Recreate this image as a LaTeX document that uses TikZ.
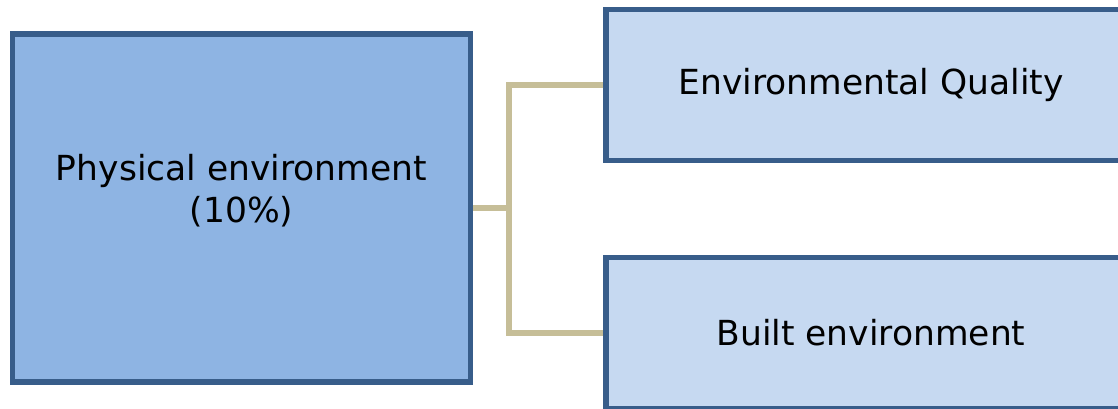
\documentclass[tikz,border=0pt]{standalone}
\usepackage{fontspec}
\setmainfont{DejaVu Sans}
\usetikzlibrary{positioning}
\definecolor{physcolor}{RGB}{142,180,227}
\definecolor{subcolor}{RGB}{198,217,241}
\definecolor{edgecolor}{RGB}{56,93,138}
\definecolor{linkcolor}{RGB}{198,190,152}

\begin{document}
\begin{tikzpicture}[
    x=1pt, y=-1pt,
    box/.style={draw=edgecolor, line width=5.5pt, fill=#1, inner sep=0pt, font=\fontsize{34.5}{42}\selectfont, align=center},
    link/.style={draw=linkcolor, line width=6.5pt}
]
    \useasboundingbox (0,0) rectangle (1118,409);

    \node[box=physcolor, minimum width=458pt, minimum height=348pt] (phys) at (241.5,208) {};
    \node[font=\fontsize{34.5}{42}\selectfont, align=center] (physlabel) at (241.5,191) {Physical environment\\(10\%)};
    \node[box=subcolor, minimum width=530pt, minimum height=151pt] (quality) at (871,85) {Environmental Quality};
    \node[box=subcolor, minimum width=530pt, minimum height=151pt] (built) at (871,333) {Built environment};

    % Connectors
    \coordinate (fork) at (509,208);
    \draw[link] (phys.east) -- (fork);
    \draw[link] (quality.west) -| (fork) |- (built.west);
\end{tikzpicture}
\end{document}
